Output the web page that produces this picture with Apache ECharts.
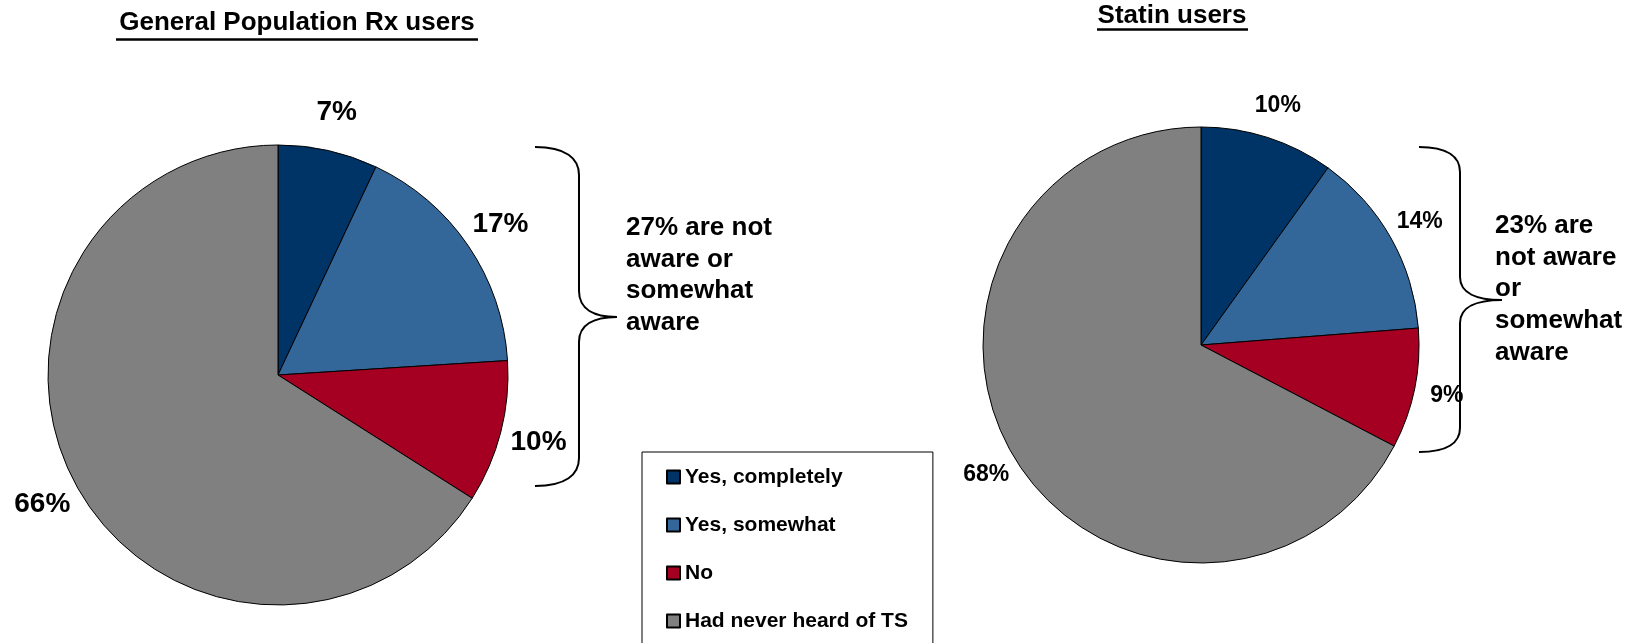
<!DOCTYPE html>
<html>
<head>
<meta charset="utf-8">
<script src="https://cdn.jsdelivr.net/npm/echarts@6/dist/echarts.min.js"></script>
<style>
html,body{margin:0;padding:0;background:#fff;}
#chart{width:1645px;height:643px;}
</style>
</head>
<body>
<div id="chart"></div>
<script>
// ---- data ----
const categories = ['Yes, completely', 'Yes, somewhat', 'No', 'Had never heard of TS'];
const generalValues = [7, 17, 10, 66];
const statinValues = [10, 14, 9, 68];
const titles = ['General Population Rx users', 'Statin users'];
const generalNote = ['27% are not', 'aware or', 'somewhat', 'aware'];
const statinNote = ['23% are', 'not aware', 'or', 'somewhat', 'aware'];

// ---- styles ----
const colors = ['#003366', '#336699', '#A50021', '#808080'];
const FONT = 'Arial, "Liberation Sans", Helvetica, sans-serif';

function toData(vals) {
  return categories.map((n, i) => ({ name: n, value: vals[i] }));
}

function pieSeries(vals, center, r) {
  return {
    type: 'pie', center: center, radius: r, startAngle: 90, clockwise: true,
    color: colors, silent: true, animation: false,
    data: toData(vals),
    itemStyle: { borderColor: '#000', borderWidth: 1 },
    label: { show: false }, labelLine: { show: false },
    emphasis: { disabled: true }
  };
}
function labelSeries(vals, center, r, fs) {
  return {
    type: 'pie', center: center, radius: [0, r], startAngle: 90, clockwise: true,
    silent: true, animation: false,
    data: toData(vals),
    itemStyle: { color: 'rgba(0,0,0,0)', borderWidth: 0 },
    label: {
      show: true, position: 'inside', formatter: '{c}%',
      fontSize: fs, fontWeight: 'bold', color: '#000', fontFamily: FONT
    },
    labelLine: { show: false },
    emphasis: { disabled: true }
  };
}

function brace(xEnd, xV, xTip, yTop, yTipTop, yTip, yTipBot, yBot, yTopV, yBotV) {
  const st = { stroke: '#000', lineWidth: 2, fill: null };
  const c = (a) => ({ type: 'bezierCurve', shape: a, style: st, silent: true });
  const l = (a) => ({ type: 'line', shape: a, style: st, silent: true });
  return [
    c({ x1: xEnd, y1: yTop, cpx1: xEnd + (xV - xEnd) * 0.7, cpy1: yTop, cpx2: xV, cpy2: yTop + (yTopV - yTop) * 0.4, x2: xV, y2: yTopV }),
    l({ x1: xV, y1: yTopV, x2: xV, y2: yTipTop }),
    c({ x1: xV, y1: yTipTop, cpx1: xV, cpy1: yTipTop + (yTip - yTipTop) * 0.7, cpx2: xV + (xTip - xV) * 0.4, cpy2: yTip, x2: xTip, y2: yTip }),
    c({ x1: xTip, y1: yTip, cpx1: xV + (xTip - xV) * 0.4, cpy1: yTip, cpx2: xV, cpy2: yTip + (yTipBot - yTip) * 0.3, x2: xV, y2: yTipBot }),
    l({ x1: xV, y1: yTipBot, x2: xV, y2: yBotV }),
    c({ x1: xV, y1: yBotV, cpx1: xV, cpy1: yBotV + (yBot - yBotV) * 0.6, cpx2: xEnd + (xV - xEnd) * 0.7, cpy2: yBot, x2: xEnd, y2: yBot })
  ];
}

function textEl(x, y, text, fs, align, vAlign, lh) {
  return {
    type: 'text', x: x, y: y, silent: true,
    style: {
      text: text, fontSize: fs, fontWeight: 'bold', fontFamily: FONT, fill: '#000',
      align: align, verticalAlign: vAlign, lineHeight: lh || fs * 1.2
    }
  };
}

const chart = echarts.init(document.getElementById('chart'), null, { renderer: 'canvas' });
const option = {
  backgroundColor: '#fff',
  animation: false,
  legend: {
    orient: 'vertical', left: 642, top: 452, height: 400,
    data: categories, icon: 'rect', itemWidth: 13, itemHeight: 13, itemGap: 24,
    padding: [13, 25, 40, 24], borderColor: '#000', borderWidth: 1,
    selectedMode: false,
    textStyle: { fontSize: 21, fontWeight: 'bold', color: '#000', fontFamily: FONT, lineHeight: 24 }
  },
  series: [
    pieSeries(generalValues, [278, 375], 230),
    pieSeries(statinValues, [1201, 345], 218),
    labelSeries(generalValues, [278, 375], 532, 28),
    labelSeries(statinValues, [1201, 345], 496, 23)
  ],
  graphic: [].concat(
    [
      textEl(297, 23, titles[0], 26, 'center', 'middle'),
      { type: 'line', silent: true, shape: { x1: 116, y1: 39.5, x2: 478, y2: 39.5 }, style: { stroke: '#000', lineWidth: 2.5 } },
      textEl(1172, 16, titles[1], 26, 'center', 'middle'),
      { type: 'line', silent: true, shape: { x1: 1097, y1: 29.5, x2: 1248, y2: 29.5 }, style: { stroke: '#000', lineWidth: 2.5 } },
      textEl(626, 212, generalNote.join('\n'), 26, 'left', 'top', 31.7),
      textEl(1495, 210, statinNote.join('\n'), 26, 'left', 'top', 31.7)
    ],
    brace(535, 579, 617, 147, 291, 317, 342, 486, 175, 458),
    brace(1419, 1460, 1502, 147, 277, 300, 323, 452, 172, 428)
  )
};
chart.setOption(option);
</script>
</body>
</html>
